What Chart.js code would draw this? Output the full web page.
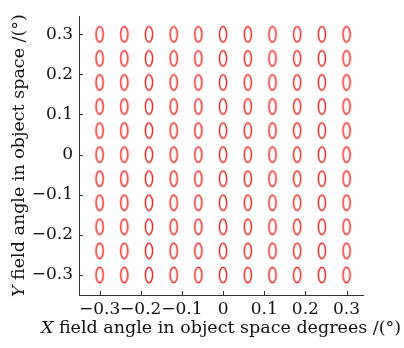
<!DOCTYPE html>
<html>
<head>
<meta charset="utf-8">
<script src="https://cdn.jsdelivr.net/npm/chart.js@4"></script>
<style>
  html, body { margin: 0; padding: 0; background: #fff; }
  #wrap { width: 404px; height: 348px; }
</style>
</head>
<body>
<div id="wrap"><canvas id="spots"></canvas></div>
<script>
// field sample positions (deg) and axis ticks
const fieldX = [-0.3, -0.24, -0.18, -0.12, -0.06, 0, 0.06, 0.12, 0.18, 0.24, 0.3];
const fieldY = [-0.3, -0.24, -0.18, -0.12, -0.06, 0, 0.06, 0.12, 0.18, 0.24, 0.3];
const xTicks = [-0.3, -0.2, -0.1, 0, 0.1, 0.2, 0.3];
const yTicks = [-0.3, -0.2, -0.1, 0, 0.1, 0.2, 0.3];

const SERIF = '"DejaVu Serif", serif';
const RED = 'rgb(240, 40, 40)';

// spot outline used as point style
function makeSpot() {
    const c = document.createElement('canvas');
    c.width = 12; c.height = 20;
    const g = c.getContext('2d');
    g.strokeStyle = RED;
    g.lineWidth = 1.5;
    g.beginPath();
    g.ellipse(6, 10, 3.6, 7.7, 0, 0, Math.PI * 2);
    g.stroke();
    return c;
}

const points = [];
fieldY.forEach(fy => fieldX.forEach(fx => points.push({ x: fx, y: fy })));

function fmt(v) {
    if (Math.abs(v) < 1e-9) return '0';
    const s = Math.abs(v).toFixed(1);
    return v < 0 ? '\u2212' + s : s;
}

// inner tick marks
const innerTicks = {
    id: 'innerTicks',
    afterDraw(chart) {
        const { ctx, chartArea, scales } = chart;
        ctx.save();
        ctx.strokeStyle = '#333';
        ctx.lineWidth = 1;
        xTicks.forEach(t => {
            const px = Math.round(scales.x.getPixelForValue(t)) + 0.5;
            ctx.beginPath();
            ctx.moveTo(px, chartArea.bottom);
            ctx.lineTo(px, chartArea.bottom - 4);
            ctx.stroke();
        });
        yTicks.forEach(t => {
            const py = Math.round(scales.y.getPixelForValue(t)) + 0.5;
            ctx.beginPath();
            ctx.moveTo(chartArea.left, py);
            ctx.lineTo(chartArea.left + 4, py);
            ctx.stroke();
        });
        ctx.restore();
    }
};

// axis titles with italic variable letter
function drawMixed(ctx, parts, x, y) {
    let total = 0;
    parts.forEach(p => { ctx.font = p.font; total += ctx.measureText(p.text).width; });
    let cx = x - total / 2;
    parts.forEach(p => {
        ctx.font = p.font;
        ctx.fillText(p.text, cx, y);
        cx += ctx.measureText(p.text).width;
    });
}

const axisTitles = {
    id: 'axisTitles',
    afterDraw(chart) {
        const { ctx, chartArea } = chart;
        const it = 'italic 17.5px ' + SERIF, rm = '17.5px ' + SERIF;
        ctx.save();
        ctx.fillStyle = '#111';
        ctx.textAlign = 'left';
        ctx.textBaseline = 'middle';
        drawMixed(ctx, [{ text: 'X', font: it }, { text: ' field angle in object space degrees /(\u00b0)', font: rm }],
            221, 328);
        ctx.translate(19, (chartArea.top + chartArea.bottom) / 2);
        ctx.rotate(-Math.PI / 2);
        drawMixed(ctx, [{ text: 'Y', font: it }, { text: ' field angle in object space /(\u00b0)', font: rm }], 0, 0);
        ctx.restore();
    }
};

new Chart(document.getElementById('spots'), {
    type: 'scatter',
    data: {
        datasets: [{
            data: points,
            pointStyle: makeSpot(),
            pointRadius: 6,
            pointHoverRadius: 6
        }]
    },
    plugins: [innerTicks, axisTitles],
    options: {
        responsive: true,
        maintainAspectRatio: false,
        animation: false,
        events: [],
        layout: { padding: { top: 7, right: 41, left: 0, bottom: 0 } },
        plugins: { legend: { display: false }, tooltip: { enabled: false } },
        scales: {
            x: {
                type: 'linear',
                min: -0.35, max: 0.34,
                afterBuildTicks: s => { s.ticks = xTicks.map(v => ({ value: v })); },
                afterFit: s => { s.height = 53; },
                grid: { display: false, drawTicks: false },
                border: { display: true, color: '#333', width: 1 },
                ticks: {
                    padding: 4,
                    color: '#111',
                    font: { family: SERIF, size: 17 },
                    maxRotation: 0,
                    autoSkip: false,
                    callback: v => fmt(v)
                }
            },
            y: {
                type: 'linear',
                min: -0.35, max: 0.345,
                afterBuildTicks: s => { s.ticks = yTicks.map(v => ({ value: v })); },
                afterFit: s => { s.width = 79; },
                grid: { display: false, drawTicks: false },
                border: { display: true, color: '#333', width: 1 },
                ticks: {
                    padding: 6,
                    color: '#111',
                    font: { family: SERIF, size: 17 },
                    autoSkip: false,
                    callback: v => fmt(v)
                }
            }
        }
    }
});
</script>
</body>
</html>
